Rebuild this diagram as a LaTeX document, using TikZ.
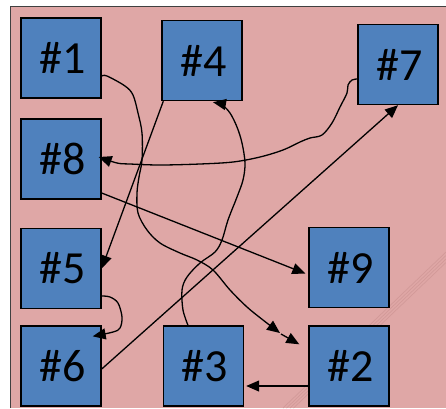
\documentclass[tikz,border=0pt]{standalone}
\usepackage{fontspec}
\setmainfont{Carlito}
\usetikzlibrary{arrows.meta}
\definecolor{bgpink}{HTML}{DFA7A6}
\definecolor{boxblue}{HTML}{4F81BD}
\definecolor{stripe}{HTML}{CF9695}
\begin{document}
\begin{tikzpicture}[x=1pt,y=-1pt,
  box/.style={draw=black, line width=1.4pt, fill=boxblue, minimum width=80pt, minimum height=80pt, inner sep=0pt, font=\fontsize{46}{46}\selectfont},
  conn/.style={line width=1.3pt, -{Triangle[length=13pt,width=11pt]}},
  curvy/.style={conn, smooth, tension=0.55}]
\fill[white] (0,0) rectangle (446,408);
\useasboundingbox (0,0) rectangle (446,408);
\fill[bgpink] (10,6) rectangle (446,408);
\draw[line width=1pt, black!75] (10,408) -- (10,6) -- (446,6);
\foreach \d in {0,3.5,7,10.5}
  \draw[stripe, line width=0.7pt, opacity=0.8] (283+\d,408) -- (446,252+\d);

\node[box] (n1) at (61,58) {\hspace{3pt}\#1};
\node[box] (n4) at (202,60.5) {\hspace{3pt}\#4};
\node[box] (n7) at (398,64.5) {\hspace{3pt}\#7};
\node[box] (n8) at (61,159) {\hspace{3pt}\#8};
\node[box] (n5) at (61,268.5) {\hspace{3pt}\#5};
\node[box] (n9) at (349,267.5) {\hspace{3pt}\#9};
\node[box] (n6) at (61,366) {\hspace{3pt}\#6};
\node[box] (n3) at (203.5,366) {\hspace{3pt}\#3};
\node[box] (n2) at (349,366) {\hspace{3pt}\#2};

% 1 -> 2
\coordinate (s1) at ([yshift=-18pt]n1.east);
\coordinate (k1) at (280,333);
\coordinate (t2) at ([xshift=-9pt,yshift=-19pt]n2.north west);
\draw[curvy] plot coordinates {(s1) (107,76) (125,86) (133,95) (138,113) (142,133) (142,160) (139,177) (137,193) (138,213) (147,230) (160,243) (180,253) (197,260) (213,270) (230,290) (247,307) (263,320) (k1)};
\draw[conn] ([xshift=1pt,yshift=-1pt]k1) -- (t2);

% 4 -> 5
\draw[conn] ([xshift=2pt]n4.south west) -- (n5.east);

% 3 -> 4
\coordinate (s3) at ([xshift=-15.5pt]n3.north);
\coordinate (t4) at ([xshift=11pt,yshift=-1pt]n4.south);
\draw[curvy] plot coordinates {(s3) (183,310) (182,290) (187,277) (200,263) (215,252) (222,240) (228,220) (237,197) (243,180) (245,163) (242,143) (237,127) (230,113) (222,105) (t4)};

% 7 -> 8
\coordinate (s7) at ([yshift=-14.5pt]n7.west);
\coordinate (t8) at ([xshift=-3pt,yshift=2pt]n8.east);
\draw[curvy] plot coordinates {(s7) (352,80) (348,85) (347,93) (340,107) (332,123) (322,135) (310,138) (300,142) (283,150) (260,157) (233,162) (200,164) (160,165) (130,164) (117,163) (t8)};

% 6 -> 7
\draw[conn] ([yshift=-3pt]n6.east) -- (n7.south);

% 8 -> 9
\draw[conn] ([yshift=-34pt]n8.east) -- ([xshift=-3pt,yshift=-6pt]n9.west);

% 5 -> 6
\coordinate (s5) at ([yshift=-27.5pt]n5.east);
\coordinate (t6) at ([xshift=-9pt,yshift=-11pt]n6.north east);
\draw[curvy] plot coordinates {(s5) (110,297) (118,303) (122,317) (120,328) (113,332) (t6)};

% 2 -> 3
\draw[conn] ([yshift=-20pt]n2.west) -- ([xshift=2pt,yshift=-20pt]n3.east);
\end{tikzpicture}
\end{document}
